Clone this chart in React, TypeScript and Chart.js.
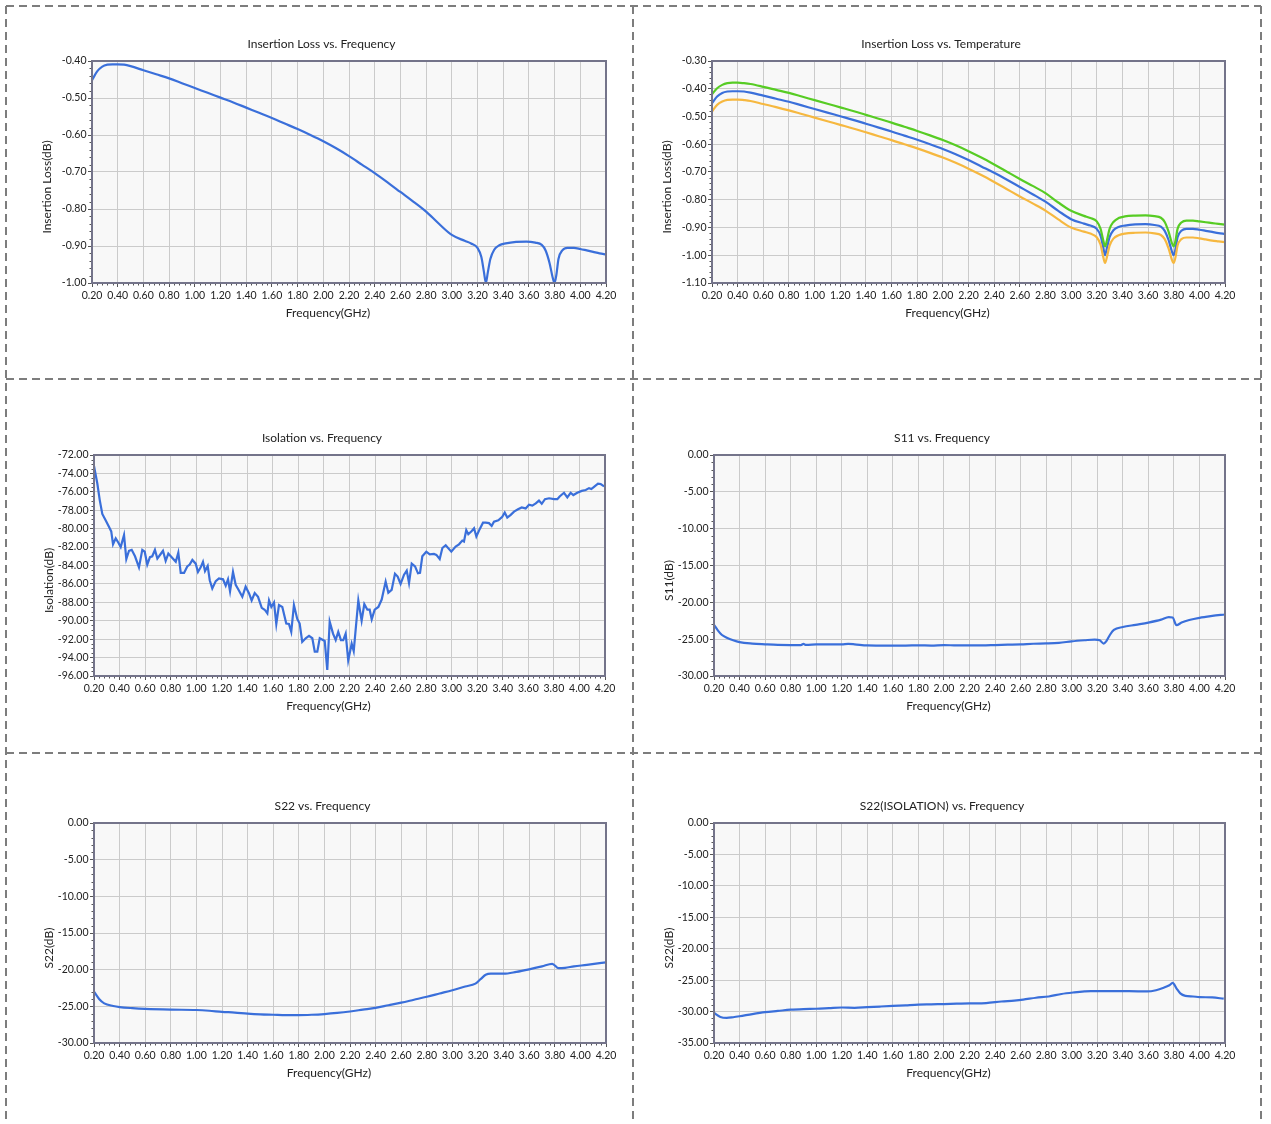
import React, { useEffect, useRef } from 'react';
import { Chart, registerables } from 'chart.js';

Chart.register(...registerables);

const FONT = 'Lato, "Noto Sans", sans-serif';

// ---------- data ----------
const ilFreq = [0.20,0.24,0.28,0.32,0.36,0.40,0.45,0.50,0.60,0.70,0.80,0.90,1.00,1.10,1.20,1.30,1.40,1.50,1.60,1.70,1.80,1.90,2.00,2.10,2.20,2.30,2.40,2.50,2.60,2.70,2.80,2.90,3.00,3.10,3.15,3.20,3.23,3.25,3.265,3.28,3.30,3.33,3.37,3.42,3.50,3.58,3.65,3.70,3.73,3.76,3.785,3.80,3.815,3.83,3.86,3.90,3.95,4.00,4.05,4.10,4.15,4.20];
const ilVal = [-0.452,-0.428,-0.415,-0.410,-0.409,-0.409,-0.410,-0.414,-0.425,-0.436,-0.447,-0.460,-0.473,-0.486,-0.499,-0.512,-0.526,-0.540,-0.554,-0.569,-0.584,-0.600,-0.617,-0.636,-0.657,-0.680,-0.703,-0.728,-0.754,-0.780,-0.807,-0.840,-0.870,-0.886,-0.893,-0.905,-0.930,-0.970,-1.000,-0.972,-0.935,-0.910,-0.898,-0.893,-0.889,-0.888,-0.891,-0.897,-0.912,-0.945,-0.985,-1.000,-0.975,-0.935,-0.912,-0.905,-0.905,-0.908,-0.912,-0.916,-0.920,-0.923];
const tempGreenVal = [-0.420,-0.398,-0.386,-0.380,-0.378,-0.378,-0.380,-0.383,-0.393,-0.404,-0.415,-0.428,-0.441,-0.454,-0.467,-0.480,-0.494,-0.508,-0.522,-0.537,-0.552,-0.568,-0.585,-0.604,-0.625,-0.648,-0.673,-0.699,-0.725,-0.750,-0.776,-0.810,-0.840,-0.858,-0.866,-0.878,-0.905,-0.945,-0.968,-0.945,-0.905,-0.880,-0.866,-0.860,-0.857,-0.856,-0.859,-0.865,-0.880,-0.915,-0.955,-0.968,-0.945,-0.905,-0.882,-0.875,-0.875,-0.878,-0.881,-0.884,-0.887,-0.890];
const tempOrangeVal = [-0.482,-0.458,-0.446,-0.440,-0.439,-0.439,-0.441,-0.444,-0.455,-0.466,-0.478,-0.491,-0.504,-0.517,-0.530,-0.543,-0.557,-0.571,-0.585,-0.600,-0.615,-0.631,-0.648,-0.667,-0.688,-0.711,-0.736,-0.762,-0.788,-0.813,-0.839,-0.871,-0.900,-0.915,-0.922,-0.935,-0.962,-1.005,-1.028,-1.005,-0.965,-0.940,-0.928,-0.922,-0.919,-0.918,-0.921,-0.927,-0.942,-0.975,-1.015,-1.028,-1.005,-0.965,-0.942,-0.936,-0.936,-0.939,-0.943,-0.947,-0.950,-0.953];

const isolationPoints: [number, number][] = [
  [0.200,-73.2],[0.226,-75.1],[0.245,-76.9],[0.265,-78.4],[0.290,-79.05],[0.317,-79.8],[0.335,-80.3],[0.349,-81.7],[0.370,-81.05],[0.390,-81.5],
  [0.409,-82.0],[0.435,-80.7],[0.453,-83.3],[0.474,-82.4],[0.495,-82.3],[0.521,-83.0],[0.552,-84.2],[0.578,-82.3],[0.597,-82.5],[0.617,-83.9],
  [0.638,-83.1],[0.656,-83.0],[0.677,-82.3],[0.696,-83.25],[0.722,-82.75],[0.740,-82.4],[0.761,-83.5],[0.782,-82.7],[0.808,-83.1],[0.840,-83.6],
  [0.860,-82.6],[0.879,-84.8],[0.905,-84.8],[0.930,-84.1],[0.949,-83.9],[0.970,-83.4],[0.996,-83.8],[1.014,-84.7],[1.035,-84.2],[1.053,-83.6],
  [1.069,-84.6],[1.090,-84.05],[1.106,-85.6],[1.126,-86.5],[1.153,-85.7],[1.178,-85.4],[1.210,-85.5],[1.231,-86.2],[1.249,-85.5],[1.265,-86.8],
  [1.288,-84.7],[1.309,-86.1],[1.330,-86.6],[1.361,-87.4],[1.387,-86.3],[1.413,-87.0],[1.434,-87.8],[1.458,-87.0],[1.484,-87.4],[1.513,-88.6],
  [1.536,-88.8],[1.557,-89.2],[1.570,-87.8],[1.588,-88.5],[1.609,-88.0],[1.627,-90.35],[1.648,-88.3],[1.674,-88.5],[1.705,-90.3],[1.726,-90.35],
  [1.744,-91.2],[1.765,-88.3],[1.791,-89.8],[1.810,-90.3],[1.830,-92.3],[1.857,-91.9],[1.883,-91.65],[1.909,-91.9],[1.928,-93.35],[1.948,-93.35],
  [1.967,-91.9],[2.006,-92.2],[2.026,-95.35],[2.045,-90.1],[2.071,-91.4],[2.092,-92.1],[2.112,-91.2],[2.133,-92.1],[2.151,-92.1],[2.170,-91.4],
  [2.190,-94.3],[2.217,-92.5],[2.233,-93.3],[2.269,-87.8],[2.295,-90.0],[2.316,-88.2],[2.340,-88.8],[2.358,-88.8],[2.374,-89.85],[2.397,-88.8],
  [2.426,-88.5],[2.452,-87.7],[2.483,-85.75],[2.504,-86.95],[2.530,-86.65],[2.556,-84.9],[2.577,-85.2],[2.600,-86.0],[2.627,-85.0],[2.648,-84.55],
  [2.666,-85.9],[2.687,-83.8],[2.713,-84.1],[2.736,-84.85],[2.752,-84.8],[2.770,-83.0],[2.801,-82.5],[2.828,-82.8],[2.861,-82.75],[2.880,-82.85],
  [2.906,-83.3],[2.927,-82.1],[2.953,-81.8],[2.997,-82.5],[3.031,-81.95],[3.057,-81.7],[3.083,-81.3],[3.096,-81.4],[3.114,-80.15],[3.130,-80.6],
  [3.157,-80.25],[3.175,-79.95],[3.193,-80.85],[3.219,-80.05],[3.245,-79.35],[3.266,-79.35],[3.292,-79.4],[3.313,-79.7],[3.331,-79.25],[3.365,-79.1],
  [3.396,-78.7],[3.415,-78.25],[3.435,-78.8],[3.462,-78.5],[3.488,-78.15],[3.519,-77.9],[3.548,-77.7],[3.579,-77.8],[3.605,-77.4],[3.631,-77.5],
  [3.658,-77.25],[3.683,-76.95],[3.705,-77.3],[3.730,-76.8],[3.762,-76.7],[3.801,-76.8],[3.827,-76.8],[3.845,-76.5],[3.879,-76.1],[3.905,-76.6],
  [3.931,-76.1],[3.952,-76.35],[3.983,-76.1],[4.018,-75.9],[4.049,-75.8],[4.075,-75.6],[4.093,-75.7],[4.119,-75.4],[4.145,-75.1],[4.166,-75.15],
  [4.193,-75.4],
];

const s11Points: [number, number][] = [
  [0.20,-23.05],[0.23,-23.8],[0.26,-24.4],[0.30,-24.8],[0.35,-25.15],[0.40,-25.4],[0.50,-25.6],[0.60,-25.7],[0.70,-25.78],[0.80,-25.8],
  [0.88,-25.8],[0.90,-25.65],[0.92,-25.78],[1.00,-25.72],[1.10,-25.7],[1.20,-25.72],[1.25,-25.65],[1.30,-25.7],[1.40,-25.85],[1.50,-25.87],
  [1.60,-25.87],[1.70,-25.87],[1.80,-25.83],[1.90,-25.87],[2.00,-25.8],[2.10,-25.85],[2.20,-25.83],[2.30,-25.85],[2.40,-25.8],[2.50,-25.75],
  [2.60,-25.7],[2.70,-25.62],[2.80,-25.58],[2.90,-25.5],[3.00,-25.3],[3.10,-25.15],[3.18,-25.05],[3.22,-25.15],[3.25,-25.6],[3.27,-25.3],
  [3.30,-24.4],[3.33,-23.75],[3.40,-23.35],[3.50,-23.05],[3.60,-22.75],[3.70,-22.35],[3.76,-22.0],[3.79,-22.05],[3.82,-23.1],[3.86,-22.75],
  [3.92,-22.4],[4.00,-22.1],[4.10,-21.85],[4.20,-21.65],
];

const s22Points: [number, number][] = [
  [0.20,-23.0],[0.24,-24.0],[0.28,-24.6],[0.35,-24.95],[0.40,-25.1],[0.50,-25.25],[0.60,-25.35],[0.80,-25.45],[1.00,-25.5],[1.10,-25.6],
  [1.20,-25.75],[1.30,-25.85],[1.40,-26.0],[1.50,-26.1],[1.60,-26.15],[1.70,-26.2],[1.80,-26.2],[1.90,-26.15],[2.00,-26.05],[2.10,-25.9],
  [2.20,-25.7],[2.30,-25.45],[2.40,-25.2],[2.50,-24.85],[2.60,-24.5],[2.70,-24.1],[2.80,-23.7],[2.90,-23.25],[3.00,-22.8],[3.10,-22.3],
  [3.18,-21.9],[3.22,-21.3],[3.26,-20.7],[3.30,-20.55],[3.40,-20.55],[3.50,-20.3],[3.60,-19.95],[3.70,-19.55],[3.78,-19.2],[3.83,-19.8],
  [3.88,-19.75],[3.95,-19.55],[4.05,-19.35],[4.20,-19.0],
];

const s22IsoPoints: [number, number][] = [
  [0.20,-30.2],[0.25,-30.85],[0.30,-31.0],[0.35,-30.9],[0.40,-30.75],[0.50,-30.4],[0.60,-30.1],[0.70,-29.9],[0.80,-29.7],[0.90,-29.6],
  [1.00,-29.55],[1.10,-29.45],[1.20,-29.35],[1.30,-29.4],[1.40,-29.3],[1.50,-29.2],[1.60,-29.1],[1.70,-29.0],[1.80,-28.9],[1.90,-28.85],
  [2.00,-28.8],[2.10,-28.75],[2.20,-28.7],[2.33,-28.65],[2.45,-28.4],[2.55,-28.25],[2.62,-28.1],[2.72,-27.8],[2.82,-27.6],[2.92,-27.2],
  [3.02,-26.95],[3.10,-26.8],[3.15,-26.75],[3.30,-26.75],[3.45,-26.75],[3.59,-26.8],[3.66,-26.6],[3.72,-26.2],[3.765,-25.8],[3.79,-25.45],
  [3.82,-26.3],[3.85,-27.1],[3.89,-27.5],[3.95,-27.6],[4.00,-27.7],[4.10,-27.75],[4.19,-27.95],
];

// ---------- styling ----------
const BLUE = '#3a6fda';
const GREEN = '#57cc24';
const ORANGE = '#f6b840';
const TEXT = '#222';
const Y_AXIS_W = 55;
const TOP_H = 50;
const BOTTOM_H = 43;
const RIGHT_PAD = 22;

type Series = { pts: { x: number; y: number }[]; color: string; smooth: boolean };
type PanelSpec = {
  title: string; yTitle: string;
  yMin: number; yMax: number; yStep: number; yMinor: number;
  series: Series[];
  plot: { left: number; top: number; right: number; bottom: number };
};

const fromArrays = (f: number[], v: number[]) => f.map((x, i) => ({ x, y: v[i] }));
const fromPairs = (p: [number, number][]) => p.map(([x, y]) => ({ x, y }));

const framePlugin = {
  id: 'plotFrame',
  beforeDraw(chart: any) {
    const { ctx, chartArea: a } = chart;
    ctx.save();
    ctx.fillStyle = '#f8f8f8';
    ctx.fillRect(a.left, a.top, a.right - a.left, a.bottom - a.top);
    ctx.restore();
  },
  afterDraw(chart: any, _args: any, opts: any) {
    const { ctx, chartArea: a, scales } = chart;
    const xs = scales.x, ys = scales.y;
    ctx.save();
    ctx.beginPath();
    ctx.strokeStyle = '#555';
    ctx.lineWidth = 1;
    const isMajor = (v: number, min: number, step: number) => {
      const r = (v - min) / step;
      return Math.abs(r - Math.round(r)) < 1e-6;
    };
    const nx = Math.round((xs.max - xs.min) / opts.xMinor);
    for (let i = 1; i < nx; i++) {
      const v = xs.min + i * opts.xMinor;
      if (isMajor(v, xs.min, opts.xStep)) continue;
      const px = Math.round(xs.getPixelForValue(v)) + 0.5;
      ctx.moveTo(px, a.bottom);
      ctx.lineTo(px, a.bottom + 2.5);
    }
    const ny = Math.round((ys.max - ys.min) / opts.yMinor);
    for (let i = 1; i < ny; i++) {
      const v = ys.min + i * opts.yMinor;
      if (isMajor(v, ys.min, opts.yStep)) continue;
      const py = Math.round(ys.getPixelForValue(v)) + 0.5;
      ctx.moveTo(a.left, py);
      ctx.lineTo(a.left - 2.5, py);
    }
    ctx.stroke();
    ctx.strokeStyle = '#74748a';
    ctx.lineWidth = 2;
    ctx.strokeRect(a.left, a.top, a.right - a.left, a.bottom - a.top);

    // axis captions
    ctx.fillStyle = TEXT;
    ctx.font = `12px ${FONT}`;
    ctx.textAlign = 'center';
    ctx.textBaseline = 'middle';
    ctx.fillText(opts.xTitle, (a.left + a.right) / 2 - 21, a.bottom + 30);
    ctx.translate(ys.left + 10, (a.top + a.bottom) / 2 + 15);
    ctx.rotate(-Math.PI / 2);
    ctx.fillText(opts.yTitle, 0, 0);
    ctx.restore();
  },
};

function buildConfig(spec: PanelSpec): any {
  const tickFont = { family: FONT, size: 10.5 };
  const textFont = { family: FONT, size: 12, weight: 'normal' as const };
  return {
    type: 'line',
    data: {
      datasets: spec.series.map((s) => ({
        data: s.pts,
        borderColor: s.color,
        borderWidth: 2.2,
        pointRadius: 0,
        fill: false,
        cubicInterpolationMode: s.smooth ? 'monotone' : 'default',
        tension: 0,
      })),
    },
    options: {
      animation: false,
      responsive: true,
      maintainAspectRatio: false,
      events: [],
      layout: { padding: { left: 0, right: RIGHT_PAD, top: 0, bottom: BOTTOM_H - 20 } },
      plugins: {
        legend: { display: false },
        tooltip: { enabled: false },
        title: {
          display: true, text: spec.title, color: TEXT, font: textFont,
          padding: { top: 25.8, bottom: 9.8 },
        },
        plotFrame: {
          xMinor: 0.04, xStep: 0.2, yMinor: spec.yMinor, yStep: spec.yStep,
          xTitle: 'Frequency(GHz)', yTitle: spec.yTitle,
        },
      },
      scales: {
        x: {
          type: 'linear', min: 0.2, max: 4.2,
          ticks: {
            stepSize: 0.2, autoSkip: false, maxRotation: 0, padding: 2.5,
            font: tickFont, color: TEXT,
            callback: (v: any) => Number(v).toFixed(2),
          },
          grid: { color: '#cbcbcb', lineWidth: 1, tickLength: 4, tickColor: '#555', drawTicks: true },
          border: { display: false },
          afterFit: (s: any) => { s.height = 20; s.paddingLeft = 0; s.paddingRight = 0; },
        },
        y: {
          type: 'linear', min: spec.yMin, max: spec.yMax,
          ticks: {
            stepSize: spec.yStep, autoSkip: false, padding: 1.5,
            font: tickFont, color: TEXT,
            callback: (v: any) => Number(v).toFixed(2),
          },
          grid: { color: '#cbcbcb', lineWidth: 1, tickLength: 4, tickColor: '#555', drawTicks: true },
          border: { display: false },
          afterFit: (s: any) => { s.width = Y_AXIS_W; s.paddingTop = 0; s.paddingBottom = 0; },
        },
      },
    },
    plugins: [framePlugin],
  };
}

const panels: PanelSpec[] = [
  {
    title: 'Insertion Loss vs. Frequency', yTitle: 'Insertion Loss(dB)',
    yMin: -1.0, yMax: -0.4, yStep: 0.1, yMinor: 0.02,
    series: [{ pts: fromArrays(ilFreq, ilVal), color: BLUE, smooth: true }],
    plot: { left: 92, top: 61, right: 606, bottom: 283 },
  },
  {
    title: 'Insertion Loss vs. Temperature', yTitle: 'Insertion Loss(dB)',
    yMin: -1.1, yMax: -0.3, yStep: 0.1, yMinor: 0.02,
    series: [
      { pts: fromArrays(ilFreq, tempGreenVal), color: GREEN, smooth: true },
      { pts: fromArrays(ilFreq, tempOrangeVal), color: ORANGE, smooth: true },
      { pts: fromArrays(ilFreq, ilVal), color: BLUE, smooth: true },
    ],
    plot: { left: 712, top: 61, right: 1225, bottom: 283 },
  },
  {
    title: 'Isolation vs. Frequency', yTitle: 'Isolation(dB)',
    yMin: -96, yMax: -72, yStep: 2, yMinor: 0.5,
    series: [{ pts: fromPairs(isolationPoints), color: BLUE, smooth: false }],
    plot: { left: 94, top: 455, right: 605, bottom: 676 },
  },
  {
    title: 'S11 vs. Frequency', yTitle: 'S11(dB)',
    yMin: -30, yMax: 0, yStep: 5, yMinor: 1,
    series: [{ pts: fromPairs(s11Points), color: BLUE, smooth: true }],
    plot: { left: 714, top: 455, right: 1225, bottom: 676 },
  },
  {
    title: 'S22 vs. Frequency', yTitle: 'S22(dB)',
    yMin: -30, yMax: 0, yStep: 5, yMinor: 1,
    series: [{ pts: fromPairs(s22Points), color: BLUE, smooth: true }],
    plot: { left: 94, top: 823, right: 606, bottom: 1043 },
  },
  {
    title: 'S22(ISOLATION) vs. Frequency', yTitle: 'S22(dB)',
    yMin: -35, yMax: 0, yStep: 5, yMinor: 1,
    series: [{ pts: fromPairs(s22IsoPoints), color: BLUE, smooth: true }],
    plot: { left: 714, top: 823, right: 1225, bottom: 1043 },
  },
];

function Panel({ spec }: { spec: PanelSpec }) {
  const ref = useRef<HTMLCanvasElement>(null);
  useEffect(() => {
    if (!ref.current) return;
    const chart = new Chart(ref.current, buildConfig(spec));
    return () => chart.destroy();
  }, [spec]);
  const { plot } = spec;
  const left = plot.left - Y_AXIS_W;
  const top = plot.top - TOP_H;
  const width = plot.right - left + RIGHT_PAD;
  const height = plot.bottom - plot.top + TOP_H + BOTTOM_H;
  return (
    <div style={{ position: 'absolute', left, top, width, height }}>
      <canvas ref={ref} />
    </div>
  );
}

function Dividers() {
  const stroke = '#7d7d7d';
  const dash = '8 5';
  const lines = [
    { x1: 6, y1: 6, x2: 1261, y2: 6 },
    { x1: 6, y1: 379, x2: 1261, y2: 379 },
    { x1: 6, y1: 753, x2: 1261, y2: 753 },
    { x1: 6, y1: 6, x2: 6, y2: 1124 },
    { x1: 633, y1: 6, x2: 633, y2: 1124 },
    { x1: 1261, y1: 6, x2: 1261, y2: 1124 },
  ];
  return (
    <svg width={1271} height={1124} style={{ position: 'absolute', left: 0, top: 0 }}>
      {lines.map((l, i) => (
        <line key={i} {...l} stroke={stroke} strokeWidth={2} strokeDasharray={dash} />
      ))}
    </svg>
  );
}

export default function App() {
  return (
    <div style={{ position: 'absolute', left: 0, top: 0, width: 1271, height: 1124, background: '#fff', overflow: 'hidden' }}>
      <Dividers />
      {panels.map((p, i) => (
        <Panel key={i} spec={p} />
      ))}
    </div>
  );
}
